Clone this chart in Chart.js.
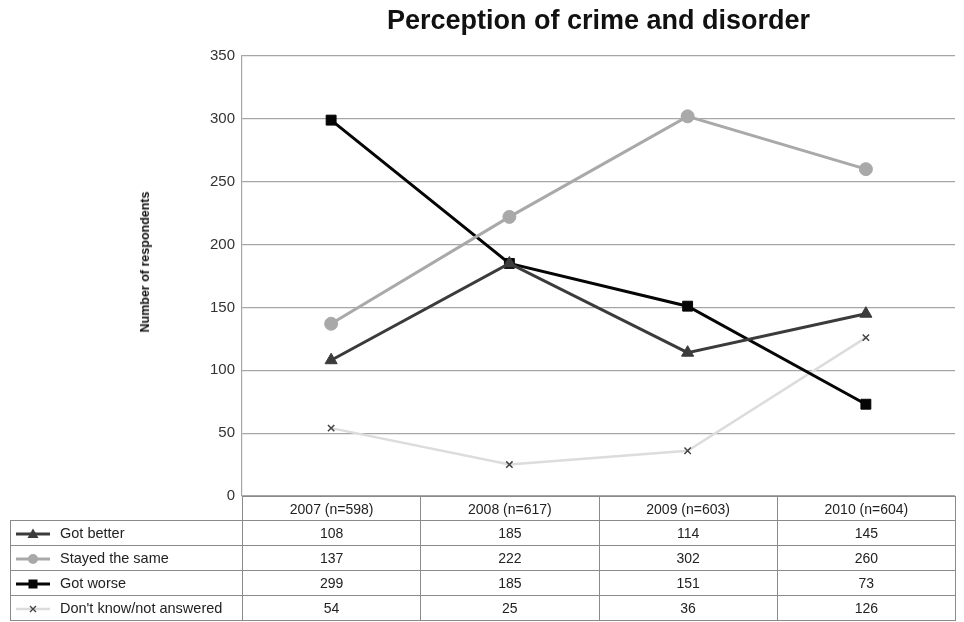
<!DOCTYPE html>
<html lang="en">
<head>
    <title>Perception of crime and disorder</title>
    <meta charset="utf-8">
    <script src="https://cdn.jsdelivr.net/npm/chart.js"></script>
<style>
        body {
            margin: 0;
            background: white;
            font-family: "Liberation Sans", Arial, sans-serif;
        }
        #wrap {
            position: relative;
            width: 964px;
            height: 622px;
        }
        #chartTitle {
            position: absolute;
            top: 5px;
            font-size: 27px;
            font-weight: bold;
            color: #111;
            text-align: center;
        }
        #yTitle {
            position: absolute;
            left: 145px;
            top: 262px;
            transform: translate(-50%, -50%) rotate(-90deg);
            font-size: 12.5px;
            font-weight: bold;
            color: #111;
            white-space: nowrap;
        }
        #dataTable {
            position: absolute;
            border-collapse: collapse;
            font-size: 14px;
            color: #222;
            table-layout: fixed;
        }
        #dataTable td {
            border: 1px solid #8a8a8a;
            height: 25px;
            padding: 0;
            text-align: center;
            box-sizing: border-box;
        }
        #dataTable tr.head td {
            height: 24px;
        }
        #dataTable td.lab {
            text-align: left;
            padding-left: 4px;
            white-space: nowrap;
            font-size: 14.5px;
        }
        #dataTable td.blank {
            border: none;
            border-bottom: 1px solid #8a8a8a;
        }
        #dataTable svg {
            vertical-align: middle;
            margin-right: 9px;
        }
    </style>
</head>
<body>
<div id="wrap">
    <canvas id="crimeChart" width="964" height="622"></canvas>
    <div id="chartTitle">Perception of crime and disorder</div>
    <div id="yTitle">Number of respondents</div>
    <table id="dataTable"></table>
</div>

<script>
        const years = ['2007 (n=598)', '2008 (n=617)', '2009 (n=603)', '2010 (n=604)'];
        const gotBetter = [108, 185, 114, 145];
        const stayedSame = [137, 222, 302, 260];
        const gotWorse = [299, 185, 151, 73];
        const dontKnow = [54, 25, 36, 126];
        const yTicks = [0, 50, 100, 150, 200, 250, 300, 350];

        const series = [
            { label: 'Got better', data: gotBetter, color: '#3b3b3b', marker: 'triangle', radius: 7, width: 3, markerColor: '#3b3b3b' },
            { label: 'Stayed the same', data: stayedSame, color: '#a9a9a9', marker: 'circle', radius: 6.5, width: 3, markerColor: '#a9a9a9' },
            { label: 'Got worse', data: gotWorse, color: '#050505', marker: 'rect', radius: 7, width: 3, markerColor: '#050505' },
            { label: "Don't know/not answered", data: dontKnow, color: '#dcdcdc', marker: 'crossRot', radius: 4.5, width: 2.5, markerColor: '#444' }
        ];

        function legendIcon(s) {
            var m = '';
            if (s.marker === 'triangle') m = '<polygon points="18,1.5 23.5,11 12.5,11" fill="' + s.markerColor + '"/>';
            if (s.marker === 'circle') m = '<circle cx="18" cy="7" r="5" fill="' + s.markerColor + '"/>';
            if (s.marker === 'rect') m = '<rect x="13.5" y="2.5" width="9" height="9" fill="' + s.markerColor + '"/>';
            if (s.marker === 'crossRot') m = '<path d="M15 4 L21 10 M21 4 L15 10" stroke="' + s.markerColor + '" stroke-width="1.4"/>';
            return '<svg width="36" height="14"><line x1="1" y1="7" x2="35" y2="7" stroke="' + s.color + '" stroke-width="' + s.width + '"/>' + m + '</svg>';
        }

        // build the data table under the plot
        var html = '<tr class="head"><td class="blank"></td>';
        years.forEach(function (y) { html += '<td>' + y + '</td>'; });
        html += '</tr>';
        series.forEach(function (s) {
            html += '<tr><td class="lab">' + legendIcon(s) + s.label + '</td>';
            s.data.forEach(function (v) { html += '<td>' + v + '</td>'; });
            html += '</tr>';
        });
        document.getElementById('dataTable').innerHTML = html;

        const placeHtml = {
            id: 'placeHtml',
            afterRender: function (chart) {
                var a = chart.chartArea;
                var title = document.getElementById('chartTitle');
                title.style.left = a.left + 'px';
                title.style.width = (a.right - a.left) + 'px';
                var table = document.getElementById('dataTable');
                var firstCol = a.left - 10;
                var colW = (a.right - a.left) / years.length;
                table.style.left = '10px';
                table.style.top = (a.bottom) + 'px';
                table.style.width = (a.right - 10) + 'px';
                var rows = table.rows;
                for (var r = 0; r < rows.length; r++) {
                    rows[r].cells[0].style.width = firstCol + 'px';
                    for (var c = 1; c < rows[r].cells.length; c++) rows[r].cells[c].style.width = colW + 'px';
                }
            }
        };

        new Chart(document.getElementById('crimeChart'), {
            type: 'line',
            data: {
                labels: years,
                datasets: series.map(function (s) {
                    return {
                        label: s.label,
                        data: s.data,
                        borderColor: s.color,
                        backgroundColor: s.markerColor,
                        pointBorderColor: s.markerColor,
                        pointBackgroundColor: s.markerColor,
                        borderWidth: s.width,
                        pointStyle: s.marker,
                        pointRadius: s.radius,
                        pointBorderWidth: s.marker === 'crossRot' ? 1.5 : 1,
                        fill: false,
                        tension: 0
                    };
                })
            },
            options: {
                responsive: false,
                animation: false,
                layout: { padding: { top: 56, right: 9, bottom: 126, left: 0 } },
                plugins: {
                    legend: { display: false },
                    tooltip: { enabled: false }
                },
                scales: {
                    x: {
                        display: false,
                        offset: true
                    },
                    y: {
                        min: 0,
                        max: 350,
                        afterFit: function (axis) { axis.width = 242; },
                        afterBuildTicks: function (axis) {
                            axis.ticks = yTicks.map(function (v) { return { value: v }; });
                        },
                        grid: { color: '#a6a6a6', lineWidth: 1.2, drawTicks: false },
                        border: { color: '#a6a6a6', width: 1.2 },
                        ticks: {
                            padding: 7,
                            color: '#333',
                            font: { family: 'Liberation Sans', size: 15 }
                        }
                    }
                }
            },
            plugins: [placeHtml]
        });
        </script>
</body></html>
